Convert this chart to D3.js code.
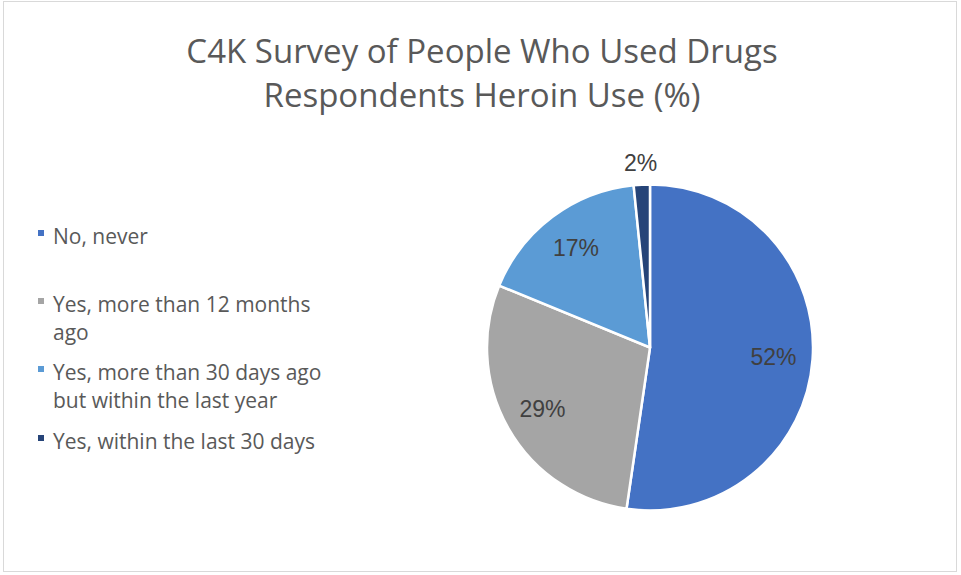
<!DOCTYPE html>
<html><head><meta charset="utf-8">
<script src="https://cdn.jsdelivr.net/npm/d3@7"></script>
<style>html,body{margin:0;padding:0;background:#fff;}</style>
</head><body>
<svg id="chart" width="961" height="575"></svg>
<script>
const titleLines = ["C4K Survey of People Who Used Drugs", "Respondents Heroin Use (%)"];
const categories = ["No, never", "Yes, more than 12 months ago", "Yes, more than 30 days ago but within the last year", "Yes, within the last 30 days"];
const legendLines = [["No, never"], ["Yes, more than 12 months", "ago"], ["Yes, more than 30 days ago", "but within the last year"], ["Yes, within the last 30 days"]];
const values = [0.523, 0.289, 0.172, 0.016];
const colors = ["#4472C4", "#A5A5A5", "#5B9BD5", "#264478"];

const svg = d3.select("#chart");
svg.append("rect").attr("x", 3.5).attr("y", 1.5).attr("width", 953).attr("height", 570)
  .attr("fill", "#fff").attr("stroke", "#d9d9d9").attr("stroke-width", 1);

// Title
svg.append("g").selectAll("text").data(titleLines).join("text")
  .attr("x", 482).attr("y", (d, i) => 63 + i * 44)
  .attr("text-anchor", "middle")
  .attr("font-family", "'Open Sans', Lato, sans-serif")
  .attr("font-size", 33).attr("fill", "#595959")
  .text(d => d);

// Pie
const cx = 650, cy = 347.5, r = 163;
const pie = d3.pie().sort(null).value(d => d);
const arcs = pie(values);
const arc = d3.arc().innerRadius(0).outerRadius(r);
const g = svg.append("g").attr("transform", `translate(${cx},${cy})`);
g.selectAll("path").data(arcs).join("path")
  .attr("d", arc).attr("fill", (d, i) => colors[i])
  .attr("stroke", "#fff").attr("stroke-width", 2.5).attr("stroke-linejoin", "round");

const fmt = d3.format(".0%");
const labelArc = d3.arc().innerRadius(r * 0.76).outerRadius(r * 0.76);
const outerArc = d3.arc().innerRadius(r + 22).outerRadius(r + 22);
g.selectAll("text.lbl").data(arcs).join("text").attr("class", "lbl")
  .attr("transform", (d, i) => `translate(${(i === 3 ? outerArc : labelArc).centroid(d)})`)
  .attr("text-anchor", "middle").attr("dy", "0.36em")
  .attr("font-family", "'Liberation Sans', Arial, sans-serif")
  .attr("font-size", 23).attr("fill", "#404040")
  .text((d, i) => fmt(values[i]));

// Legend
const legendY = [237, 305, 373, 442];
const lg = svg.append("g");
legendLines.forEach((lines, i) => {
  lg.append("rect").attr("x", 38).attr("y", legendY[i] - 7).attr("width", 6).attr("height", 6)
    .attr("fill", colors[i]);
  lg.append("text").attr("x", 53).attr("y", legendY[i])
    .attr("font-family", "'Open Sans', Lato, sans-serif").attr("font-size", 21).attr("fill", "#595959")
    .selectAll("tspan").data(lines).join("tspan")
    .attr("x", 53).attr("dy", (d, j) => j === 0 ? "0.35em" : 28)
    .text(d => d);
});
</script>
</body></html>
